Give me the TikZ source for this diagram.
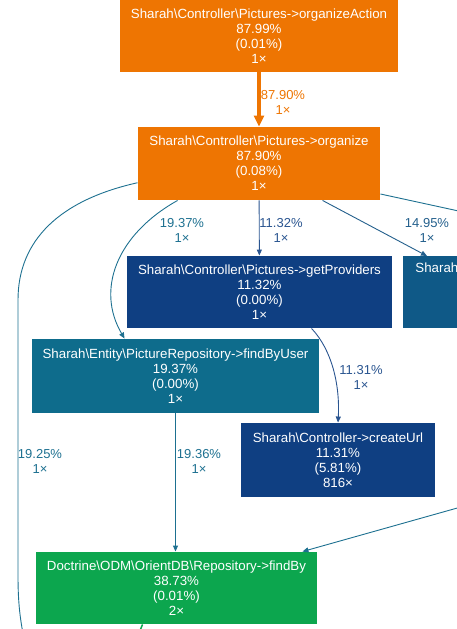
\documentclass[tikz,border=0pt]{standalone}
\usepackage{fontspec}
\setmainfont{Liberation Sans}
\usepackage{tikz}
\usetikzlibrary{arrows.meta,positioning,calc}
\definecolor{naranjafn}{HTML}{EE7502}
\definecolor{azulfn}{HTML}{0F3F82}
\definecolor{tealfn}{HTML}{0E6C8C}
\definecolor{mediofn}{HTML}{0F5987}
\definecolor{verdefn}{HTML}{0CA64E}
\definecolor{azuledge}{HTML}{2A5590}
\definecolor{tealedge}{HTML}{1D7090}
\definecolor{medioedge}{HTML}{235F8C}
\newcommand{\bsl}{\textbackslash}

\begin{document}
\begin{tikzpicture}[x=1pt, y=-1pt,
  fn/.style={rectangle, text=white, align=center, inner sep=0pt,
    font=\fontsize{13.3}{15}\selectfont},
  lbl/.style={align=center, inner sep=0pt, font=\fontsize{13}{15}\selectfont},
  >={Triangle[length=6pt,width=5pt]}, line width=0.9pt
]
\clip (0,0) rectangle (457,629);
\node[fn, fill=naranjafn, minimum width=278pt, minimum height=72pt] (act) at (259,36)
  {Sharah\bsl Controller\bsl Pictures->organizeAction\\87.99\%\\(0.01\%)\\1×};
\node[fn, fill=naranjafn, minimum width=242pt, minimum height=73pt] (org) at (259,163.5)
  {Sharah\bsl Controller\bsl Pictures->organize\\87.90\%\\(0.08\%)\\1×};
\node[fn, fill=azulfn, minimum width=265pt, minimum height=72pt] (prov) at (259.5,292)
  {Sharah\bsl Controller\bsl Pictures->getProviders\\11.32\%\\(0.00\%)\\1×};
\node[fn, fill=mediofn, anchor=north west, minimum width=110pt, minimum height=72pt,
  text width=90pt, align=left, inner xsep=12pt] (side) at (403,256)
  {Sharah\\\strut\\\strut\\\strut};
\node[fn, fill=tealfn, minimum width=287pt, minimum height=74pt] (user) at (175.5,376)
  {Sharah\bsl Entity\bsl PictureRepository->findByUser\\19.37\%\\(0.00\%)\\1×};
\node[fn, fill=azulfn, minimum width=194pt, minimum height=74pt] (url) at (338,460)
  {Sharah\bsl Controller->createUrl\\11.31\%\\(5.81\%)\\816×};
\node[fn, fill=verdefn, minimum width=281pt, minimum height=72pt] (find) at (176.5,588)
  {Doctrine\bsl ODM\bsl OrientDB\bsl Repository->findBy\\38.73\%\\(0.01\%)\\2×};

\coordinate (offr) at (500,220);
\coordinate (offin) at (500,496);
\coordinate (offdown) at (30,665);
\coordinate (offg) at (134,645);

\draw[naranjafn, line width=3.5pt, -{Triangle[length=11pt,width=10pt]}] (act) -- (org);
\draw[azuledge, ->] (org) -- (prov);
\draw[tealedge, ->] ($(org.south west)+(40,0)$) .. controls (116,235) and (96,290) .. ($(user.north west)+(93,0)$);
\draw[medioedge, ->] ($(org.south west)+(185,0)$) -- ($(side.north west)+(24,0)$);
\draw[tealedge] ($(org.east)+(0,30.5)$) -- (offr);
\draw[tealedge] (org.189) .. controls (60,200) and (18,240) .. (18,300) -- (18,575)
  .. controls (18,605) and (20,625) .. (offdown);
\draw[tealedge, ->] (user.south) -- (user.south |- find.north);
\draw[azuledge, ->] ($(prov.south west)+(185,0)$) .. controls (332,350) and (340,385) .. (url.north);
\draw[tealedge, ->] (offin) -- ($(find.north east)+(-15,0)$);
\draw[verdefn, line width=1.5pt] ($(find.south west)+(107,0)$) -- (offg);

\node[lbl, text=naranjafn] (l1) at (283,102) {87.90\%\\1×};
\node[lbl, text=azuledge] (l2) at (281,230) {11.32\%\\1×};
\node[lbl, text=tealedge] (l3) at (182,230) {19.37\%\\1×};
\node[lbl, text=medioedge] (l4) at (427,230) {14.95\%\\1×};
\node[lbl, text=azuledge] (l5) at (361,377) {11.31\%\\1×};
\node[lbl, text=tealedge] (l6) at (40,461) {19.25\%\\1×};
\node[lbl, text=tealedge] (l7) at (199,461) {19.36\%\\1×};
\end{tikzpicture}
\end{document}
